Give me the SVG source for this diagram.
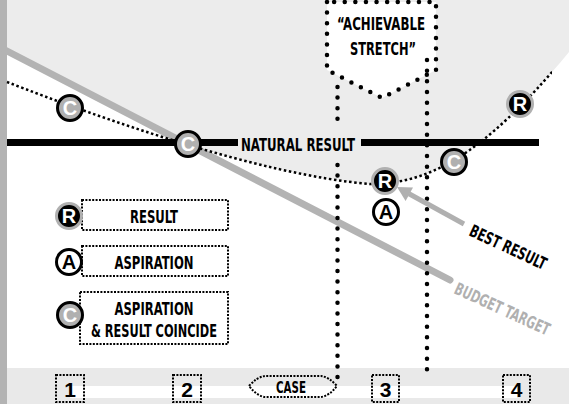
<svg xmlns="http://www.w3.org/2000/svg" width="569" height="404" viewBox="0 0 569 404">
<style>
.lbl{font-family:"Liberation Sans Narrow","DejaVu Sans Condensed","Liberation Sans",sans-serif;font-weight:bold;font-size:18px;text-anchor:middle;fill:#000}
.mk{font-family:"Liberation Sans","DejaVu Sans",sans-serif;font-weight:bold;font-size:20px;text-anchor:middle}
.num{font-family:"Liberation Sans","DejaVu Sans",sans-serif;font-weight:bold;font-size:21px;text-anchor:middle;fill:#000}
.big{fill:none;stroke:#000;stroke-width:4.5;stroke-linecap:round;stroke-dasharray:0 10.6}
.small{fill:none;stroke:#000;stroke-width:2;stroke-dasharray:2 1.4}
.curve{fill:none;stroke:#000;stroke-width:2.5;stroke-dasharray:2.5 2.6}
</style>
<defs>
<g id="mkR"><circle r="12.5" fill="#000" stroke="#b0b0b0" stroke-width="3"/><text class="mk" y="7" fill="#fff">R</text></g>
<g id="mkA"><circle r="12.5" fill="#fff" stroke="#000" stroke-width="3"/><text class="mk" y="7" fill="#000">A</text></g>
<g id="mkC"><circle r="12.5" fill="#b0b0b0" stroke="#000" stroke-width="3"/><text class="mk" y="7" fill="#fff">C</text></g>
<clipPath id="clipCurve"><rect x="0" y="0" width="552" height="404"/></clipPath>
</defs>
<rect width="569" height="404" fill="#fff"/>
<g id="background">
<path d="M7,0 H569 V52 C480,160 425,184 370,184 C260,175 100,118 7,82 Z" fill="#ececec"/>
<path d="M7,51.3 L192,146.9 L7,146.9 Z" fill="#fff"/>
<rect x="0" y="0" width="7" height="404" fill="#b3b3b3"/>
<rect x="7" y="368" width="562" height="36" fill="#e9e9e9"/>
<rect x="70" y="386" width="447" height="12" fill="#fff"/>
</g>
<g id="connectors">
<line id="budget-target" x1="5" y1="50" x2="450" y2="280" stroke="#b3b3b3" stroke-width="7" stroke-linecap="round"/>
<line x1="7" y1="142.5" x2="238" y2="142.5" stroke="#000" stroke-width="7"/>
<line x1="361" y1="142.5" x2="539" y2="142.5" stroke="#000" stroke-width="7"/>
<path id="aspiration-curve" class="curve" clip-path="url(#clipCurve)" d="M7,82 C100,118 260,175 370,184 C425,184 480,160 569,52"/>
</g>
<g id="stretch">
<path class="big" d="M327,2 V70 L382,98 L436,70 V2 Z" style="fill:#fff"/>
<text class="lbl" x="381" y="30" textLength="88" lengthAdjust="spacingAndGlyphs">“ACHIEVABLE</text>
<text class="lbl" x="383" y="55" textLength="66" lengthAdjust="spacingAndGlyphs">STRETCH”</text>
</g>
<g id="verticals">
<path class="big" d="M337.5,87 V120.6"/>
<path class="big" d="M337.5,165 V379"/>
<path class="big" d="M427,60 V380" style="stroke-dasharray:0 10.667"/>
</g>
<g id="natural-result">
<text class="lbl" x="298" y="150.5" textLength="114" lengthAdjust="spacingAndGlyphs">NATURAL RESULT</text>
</g>
<g id="best-arrow">
<line x1="464" y1="224" x2="409" y2="193.8" stroke="#b0b0b0" stroke-width="5"/>
<path d="M397,187 L413,187.4 L405.6,201 Z" fill="#b0b0b0"/>
</g>
<g id="c1"><use href="#mkC" x="70" y="108"/></g>
<g id="c2"><use href="#mkC" x="188" y="144"/></g>
<g id="r3"><use href="#mkR" x="385" y="181"/></g>
<g id="a3"><use href="#mkA" x="386" y="212"/></g>
<g id="c3"><use href="#mkC" x="454" y="162"/></g>
<g id="r4"><use href="#mkR" x="520" y="104"/></g>
<g id="legend-result">
<rect class="small" x="82" y="200" width="146" height="30" fill="#fff"/>
<use href="#mkR" x="69" y="216"/>
<text class="lbl" x="154" y="223" textLength="48" lengthAdjust="spacingAndGlyphs">RESULT</text>
</g>
<g id="legend-aspiration">
<rect class="small" x="82" y="246" width="146" height="30" fill="#fff"/>
<use href="#mkA" x="69" y="262"/>
<text class="lbl" x="154" y="269" textLength="79" lengthAdjust="spacingAndGlyphs">ASPIRATION</text>
</g>
<g id="legend-coincide">
<rect class="small" x="80" y="292" width="148" height="52" fill="#fff"/>
<use href="#mkC" x="70" y="315"/>
<text class="lbl" x="154" y="315" textLength="79" lengthAdjust="spacingAndGlyphs">ASPIRATION</text>
<text class="lbl" x="154" y="337" textLength="126" lengthAdjust="spacingAndGlyphs">&amp; RESULT COINCIDE</text>
</g>
<g id="case1"><rect class="small" x="56" y="375" width="28" height="27" fill="#e9e9e9"/><text class="num" x="70" y="397">1</text></g>
<g id="case2"><rect class="small" x="173" y="375" width="28" height="27" fill="#e9e9e9"/><text class="num" x="187" y="397">2</text></g>
<g id="case-label"><path class="small" fill="#e9e9e9" d="M249,386 Q257,377 265,376 H321 Q329,377 337,386 Q329,396 321,397 H265 Q257,396 249,386 Z"/><text class="lbl" x="291" y="392.5" style="font-size:15px" textLength="30" lengthAdjust="spacingAndGlyphs">CASE</text></g>
<g id="case3"><rect class="small" x="372" y="375" width="27" height="27" fill="#e9e9e9"/><text class="num" x="385.5" y="397">3</text></g>
<g id="case4"><rect class="small" x="503" y="375" width="27" height="27" fill="#e9e9e9"/><text class="num" x="516.5" y="397">4</text></g>
<g id="best-result-label"><text class="lbl" style="text-anchor:start;font-size:17px" transform="translate(468,235) rotate(25)" textLength="83" lengthAdjust="spacingAndGlyphs">BEST RESULT</text></g>
<g id="budget-target-label"><text class="lbl" style="text-anchor:start;font-size:17px;fill:#b0b0b0" transform="translate(453,293) rotate(24.5)" textLength="103" lengthAdjust="spacingAndGlyphs">BUDGET TARGET</text></g>
</svg>
